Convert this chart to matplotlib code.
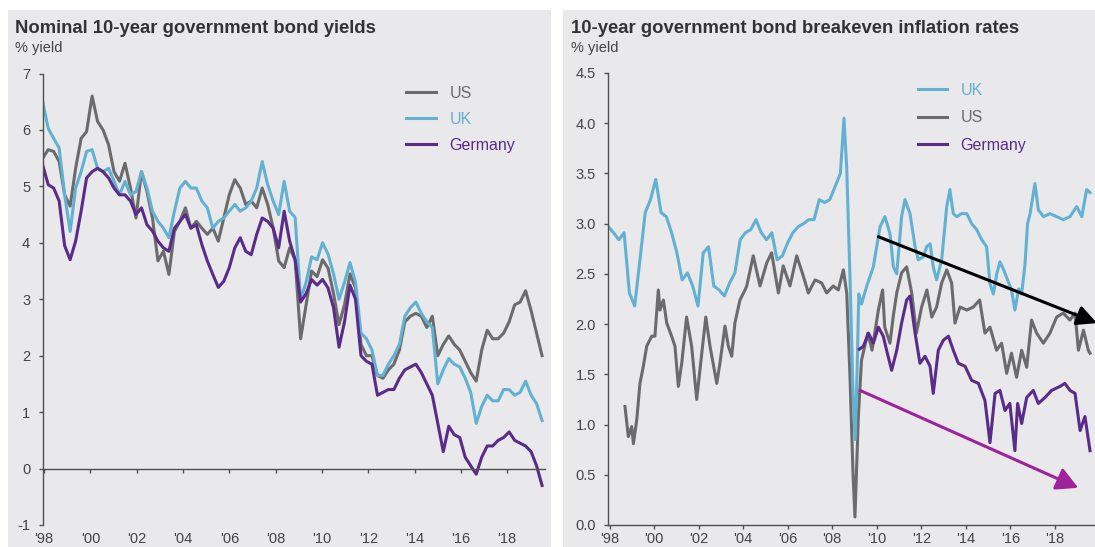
import matplotlib
matplotlib.use('Agg')
import matplotlib.pyplot as plt
from matplotlib.patches import Rectangle
from matplotlib.transforms import blended_transform_factory

plt.rcParams['font.family'] = ['Liberation Sans', 'DejaVu Sans']
plt.rcParams['axes.unicode_minus'] = False

# ---------------- data (x = position along the chart's time axis, years) ----------------
left_t = [1998.00 + 0.25 * i for i in range(92)]
left_us = [5.50, 5.65, 5.62, 5.44, 4.85, 4.65, 5.32, 5.85, 5.97, 6.60, 6.15, 6.00,
           5.74, 5.26, 5.09, 5.41, 4.97, 4.44, 5.26, 4.91, 4.44, 3.68, 3.85, 3.44,
           4.20, 4.38, 4.62, 4.26, 4.38, 4.26, 4.15, 4.26, 4.03, 4.44, 4.85, 5.12,
           4.97, 4.68, 4.74, 4.62, 4.97, 4.68, 4.26, 3.68, 3.56, 3.91, 3.70, 2.30,
           2.90, 3.50, 3.40, 3.70, 3.55, 3.10, 2.55, 2.90, 3.45, 3.20, 2.20, 2.00,
           2.00, 1.65, 1.60, 1.75, 1.85, 2.10, 2.60, 2.70, 2.75, 2.70, 2.50, 2.70,
           2.00, 2.20, 2.35, 2.20, 2.10, 1.90, 1.70, 1.55, 2.10, 2.45, 2.30, 2.30,
           2.40, 2.60, 2.90, 2.95, 3.15, 2.80, 2.40, 2.00]
left_uk = [6.50, 6.03, 5.85, 5.68, 4.85, 4.20, 4.97, 5.26, 5.62, 5.65, 5.32, 5.26,
           5.32, 5.09, 4.85, 5.09, 4.85, 4.91, 5.26, 4.97, 4.56, 4.38, 4.26, 4.09,
           4.56, 4.97, 5.09, 4.97, 4.97, 4.74, 4.62, 4.26, 4.38, 4.44, 4.56, 4.68,
           4.56, 4.62, 4.74, 4.97, 5.44, 5.03, 4.74, 4.50, 5.09, 4.56, 4.45, 3.00,
           3.30, 3.75, 3.70, 4.00, 3.80, 3.45, 3.00, 3.30, 3.65, 3.30, 2.40, 2.30,
           2.10, 1.65, 1.65, 1.85, 2.00, 2.20, 2.70, 2.85, 2.95, 2.75, 2.60, 2.50,
           1.50, 1.75, 1.95, 1.85, 1.80, 1.60, 1.35, 0.80, 1.10, 1.30, 1.20, 1.20,
           1.40, 1.40, 1.30, 1.35, 1.55, 1.30, 1.15, 0.85]
left_de = [5.38, 5.03, 4.97, 4.74, 3.95, 3.70, 4.03, 4.56, 5.15, 5.26, 5.32, 5.26,
           5.15, 4.97, 4.85, 4.85, 4.74, 4.50, 4.62, 4.32, 4.21, 4.03, 3.91, 3.85,
           4.26, 4.38, 4.50, 4.26, 4.32, 3.97, 3.68, 3.44, 3.21, 3.32, 3.56, 3.91,
           4.09, 3.85, 3.79, 4.15, 4.44, 4.38, 4.26, 3.91, 4.56, 4.03, 3.70, 2.95,
           3.10, 3.35, 3.25, 3.35, 3.20, 2.85, 2.15, 2.60, 3.25, 3.00, 2.00, 1.90,
           1.85, 1.30, 1.35, 1.40, 1.40, 1.60, 1.75, 1.80, 1.85, 1.70, 1.50, 1.30,
           0.80, 0.30, 0.75, 0.60, 0.55, 0.20, 0.05, -0.10, 0.20, 0.40, 0.40, 0.50,
           0.55, 0.65, 0.50, 0.45, 0.40, 0.30, 0.05, -0.30]

right_uk_t = [1998.0, 1998.25, 1998.5, 1998.75, 1999.0, 1999.25, 1999.5, 1999.75, 2000.0,
              2000.25, 2000.5, 2000.75, 2001.0, 2001.25, 2001.5, 2001.75, 2002.0, 2002.25,
              2002.5, 2002.75, 2003.0, 2003.25, 2003.5, 2003.75, 2004.0, 2004.25, 2004.5,
              2004.75, 2005.0, 2005.25, 2005.5, 2005.75, 2006.0, 2006.25, 2006.5, 2006.75,
              2007.0, 2007.25, 2007.5, 2007.75, 2008.0, 2008.25, 2008.5, 2008.75, 2009.0,
              2009.17, 2009.3, 2009.45, 2009.6, 2009.7, 2009.8, 2009.87, 2010.0, 2010.25,
              2010.56, 2010.88, 2011.11, 2011.35, 2011.51, 2011.67, 2011.9, 2012.06, 2012.3,
              2012.54, 2012.69, 2012.93, 2013.09, 2013.25, 2013.4, 2013.56, 2013.8, 2014.04,
              2014.19, 2014.35, 2014.51, 2014.75, 2014.99, 2015.22, 2015.46, 2015.7, 2015.93,
              2016.09, 2016.25, 2016.41, 2016.56, 2016.72, 2016.96, 2017.1, 2017.27, 2017.45,
              2017.59, 2017.75, 2017.87, 2017.99, 2018.22, 2018.38, 2018.62, 2018.93, 2019.25,
              2019.56, 2019.88, 2020.2, 2020.44, 2020.67, 2020.83]
right_uk = [2.97, 2.91, 2.84, 2.91, 2.31, 2.18, 2.64, 3.11, 3.24,
            3.44, 3.11, 3.07, 2.91, 2.71, 2.44, 2.51, 2.38, 2.18,
            2.71, 2.77, 2.38, 2.34, 2.28, 2.41, 2.51, 2.84, 2.91,
            2.94, 3.04, 2.91, 2.84, 2.91, 2.64, 2.68, 2.81, 2.91,
            2.97, 3.00, 3.04, 3.04, 3.24, 3.21, 3.24, 3.37, 3.50,
            4.05, 3.55, 2.50, 1.30, 0.85, 1.60, 2.30, 2.20, 2.38,
            2.57, 2.97, 3.07, 2.90, 2.57, 2.50, 3.07, 3.24, 3.10,
            2.77, 2.64, 2.67, 2.77, 2.80, 2.57, 2.44, 2.64, 3.17,
            3.34, 3.10, 3.07, 3.10, 3.10, 3.00, 2.94, 2.84, 2.77,
            2.40, 2.30, 2.50, 2.62, 2.55, 2.42, 2.35, 2.14, 2.35,
            2.30, 2.60, 3.00, 3.10, 3.40, 3.14, 3.07, 3.10, 3.07,
            3.04, 3.07, 3.17, 3.07, 3.34, 3.31]

right_us_t = [1998.79, 1998.95, 1999.11, 1999.19, 1999.35, 1999.5, 1999.66, 1999.82, 2000.06,
              2000.21, 2000.37, 2000.45, 2000.61, 2000.77, 2001.0, 2001.16, 2001.32, 2001.48,
              2001.71, 2001.95, 2002.19, 2002.43, 2002.62, 2002.82, 2003.14, 2003.29, 2003.53,
              2003.69, 2003.85, 2004.0, 2004.24, 2004.48, 2004.56, 2004.87, 2005.19, 2005.51,
              2005.74, 2006.06, 2006.29, 2006.61, 2006.93, 2007.24, 2007.48, 2007.8, 2008.11,
              2008.35, 2008.66, 2008.9, 2009.14, 2009.3, 2009.45, 2009.6, 2009.69, 2009.85,
              2010.0, 2010.3, 2010.5, 2010.8, 2011.0, 2011.1, 2011.35, 2011.5, 2011.67,
              2011.9, 2012.14, 2012.38, 2012.6, 2012.85, 2013.1, 2013.33, 2013.56, 2013.8,
              2014.04, 2014.27, 2014.43, 2014.67, 2014.99, 2015.3, 2015.6, 2015.85, 2016.09,
              2016.4, 2016.64, 2016.88, 2017.11, 2017.35, 2017.59, 2017.83, 2018.06, 2018.3,
              2018.62, 2018.93, 2019.25, 2019.56, 2019.88, 2020.12, 2020.28, 2020.52, 2020.75,
              2020.83]
right_us = [1.18, 0.88, 0.98, 0.81, 1.05, 1.41, 1.58, 1.78, 1.88,
            1.88, 2.34, 2.14, 2.24, 2.01, 1.88, 1.78, 1.38, 1.61,
            2.07, 1.78, 1.25, 1.71, 2.07, 1.78, 1.41, 1.61, 1.98,
            1.78, 1.68, 2.01, 2.24, 2.34, 2.38, 2.68, 2.38, 2.61,
            2.71, 2.31, 2.58, 2.38, 2.68, 2.48, 2.31, 2.44, 2.41,
            2.31, 2.38, 2.34, 2.54, 2.31, 1.50, 0.50, 0.08, 1.08,
            1.64, 1.91, 1.74, 2.14, 2.34, 1.97, 1.81, 2.07, 2.31,
            2.51, 2.57, 2.31, 1.91, 2.17, 2.34, 2.07, 2.17, 2.41,
            2.54, 2.41, 2.01, 2.17, 2.14, 2.17, 2.24, 1.91, 1.97,
            1.74, 1.81, 1.51, 1.71, 1.47, 1.74, 1.57, 2.04, 1.91,
            1.81, 1.91, 2.07, 2.11, 2.04, 2.11, 1.74, 1.94, 1.74,
            1.71]

right_de_t = [2009.9, 2010.09, 2010.33, 2010.56, 2010.8, 2011.03, 2011.19, 2011.43, 2011.67,
              2011.9, 2012.14, 2012.3, 2012.54, 2012.77, 2013.01, 2013.25, 2013.4, 2013.64,
              2013.88, 2014.12, 2014.35, 2014.59, 2014.91, 2015.22, 2015.54, 2015.85, 2016.09,
              2016.33, 2016.56, 2016.8, 2017.03, 2017.27, 2017.4, 2017.59, 2017.83, 2018.14,
              2018.38, 2018.7, 2019.01, 2019.41, 2019.64, 2019.88, 2020.12, 2020.36, 2020.59,
              2020.83]
right_de = [1.75, 1.78, 1.91, 1.81, 1.97, 1.88, 1.74, 1.54, 1.74,
            2.01, 2.24, 2.28, 1.91, 1.61, 1.68, 1.58, 1.31, 1.74,
            1.84, 1.88, 1.74, 1.61, 1.58, 1.44, 1.41, 1.24, 0.82,
            1.31, 1.34, 1.14, 1.21, 0.74, 1.21, 1.01, 1.27, 1.34,
            1.21, 1.27, 1.34, 1.38, 1.41, 1.34, 1.31, 0.94, 1.08,
            0.74]

# year-tick positions along the same time axis, and their labels
x_tick_pos = [1998.06, 2000.17, 2002.28, 2004.39, 2006.50, 2008.61, 2010.72, 2012.83,
              2014.94, 2017.05, 2019.16]
x_labels = ["'98", "'00", "'02", "'04", "'06", "'08", "'10", "'12", "'14", "'16", "'18"]
left_yticks = list(range(-1, 8))
right_yticks = [0.0, 0.5, 1.0, 1.5, 2.0, 2.5, 3.0, 3.5, 4.0, 4.5]

# trend arrows (start -> end)
black_arrow = [(2010.8, 2.87), (2021.16, 2.01)]
magenta_arrow = [(2009.93, 1.34), (2020.27, 0.37)]

# ---------------- styling ----------------
BG = '#e9e9eb'
C_US = '#6b6b6d'
C_UK = '#63b1d2'
C_DE = '#5a2b88'
C_AX = '#505050'
C_TXT = '#444444'
LW = 2.2
FS_TICK = 10.5

W, H = 1095, 547
fig = plt.figure(figsize=(W / 100, H / 100), dpi=100, facecolor='white')


def fx(px):
    return px / W


def fy(py):
    return 1 - py / H


for x0, x1 in [(8, 551), (563, 1095)]:
    fig.add_artist(Rectangle((fx(x0), 0), fx(x1) - fx(x0), fy(10), transform=fig.transFigure,
                             facecolor=BG, edgecolor='none', zorder=-10))

axL = fig.add_axes([fx(42.7), fy(525), fx(545) - fx(42.7), fy(73.5) - fy(525)])
axR = fig.add_axes([fx(608.3), fy(525), fx(1095) - fx(608.3), fy(73) - fy(525)])

for ax in (axL, axR):
    ax.set_facecolor('none')
    for s in ('top', 'right'):
        ax.spines[s].set_visible(False)
    for s in ('left', 'bottom'):
        ax.spines[s].set_color(C_AX)
        ax.spines[s].set_linewidth(1.0)
    ax.tick_params(axis='both', direction='out', length=3, width=1.0, color=C_AX,
                   labelsize=FS_TICK, labelcolor=C_TXT, pad=6)
    ax.set_xticks(x_tick_pos)
    ax.tick_params(axis='x', labelbottom=False)
    # year labels sit under the plot area, near the bottom of the panel
    tr = blended_transform_factory(ax.transData, fig.transFigure)
    for t, lab in zip(x_tick_pos, x_labels):
        ax.text(t, fy(543), lab, transform=tr, ha='center', va='baseline',
                fontsize=FS_TICK, color=C_TXT)

# ----- left chart -----
axL.plot(left_t, left_us, color=C_US, lw=LW, label='US', solid_joinstyle='round')
axL.plot(left_t, left_uk, color=C_UK, lw=LW, label='UK', solid_joinstyle='round')
axL.plot(left_t, left_de, color=C_DE, lw=LW, label='Germany', solid_joinstyle='round')
axL.set_xlim(1998, 1998 + (545 - 42.7) / 21.95)
axL.set_ylim(-1, 7)
axL.set_yticks(left_yticks)
axL.spines['bottom'].set_position(('data', 0))

axL.legend(loc='upper left', bbox_to_anchor=(fx(406.5), fy(85.5)), bbox_transform=fig.transFigure,
           frameon=False, borderpad=0, borderaxespad=0, handlelength=1.87, handletextpad=0.83,
           labelspacing=0.7, fontsize=11.5, labelcolor='linecolor')

# ----- right chart -----
axR.plot(right_us_t, right_us, color=C_US, lw=LW, label='US', solid_joinstyle='round')
axR.plot(right_uk_t, right_uk, color=C_UK, lw=LW, label='UK', solid_joinstyle='round')
axR.plot(right_de_t, right_de, color=C_DE, lw=LW, label='Germany', solid_joinstyle='round')
axR.set_xlim(1998, 1998 + (1095 - 608.3) / 21.1)
axR.set_ylim(0, 4.5)
axR.set_yticks(right_yticks)
axR.set_yticklabels([f'{v:.1f}' for v in right_yticks])

h, l = axR.get_legend_handles_labels()
order = [1, 0, 2]
axR.legend([h[i] for i in order], [l[i] for i in order], loc='upper left',
           bbox_to_anchor=(fx(917.5), fy(83)), bbox_transform=fig.transFigure,
           frameon=False, borderpad=0, borderaxespad=0, handlelength=1.87, handletextpad=0.83,
           labelspacing=0.78, fontsize=11.5, labelcolor='linecolor')

axR.annotate('', xy=black_arrow[1], xytext=black_arrow[0], annotation_clip=False,
             arrowprops=dict(arrowstyle='-|>,head_length=0.6,head_width=0.3', color='black',
                             lw=2.2, mutation_scale=20, shrinkA=0, shrinkB=0))
axR.annotate('', xy=magenta_arrow[1], xytext=magenta_arrow[0], annotation_clip=False,
             arrowprops=dict(arrowstyle='-|>,head_length=0.65,head_width=0.35', color='#a0219c',
                             lw=2.2, mutation_scale=20, shrinkA=0, shrinkB=0))

# ----- titles -----
fig.text(fx(15), fy(33), 'Nominal 10-year government bond yields', fontsize=13.3,
         fontweight='bold', color='#333333', ha='left', va='baseline')
fig.text(fx(15), fy(52), '% yield', fontsize=10.5, color=C_TXT, ha='left', va='baseline')
fig.text(fx(571), fy(33), '10-year government bond breakeven inflation rates', fontsize=13.3,
         fontweight='bold', color='#333333', ha='left', va='baseline')
fig.text(fx(571), fy(52), '% yield', fontsize=10.5, color=C_TXT, ha='left', va='baseline')

fig.savefig('out.png', dpi=100, facecolor='white')
